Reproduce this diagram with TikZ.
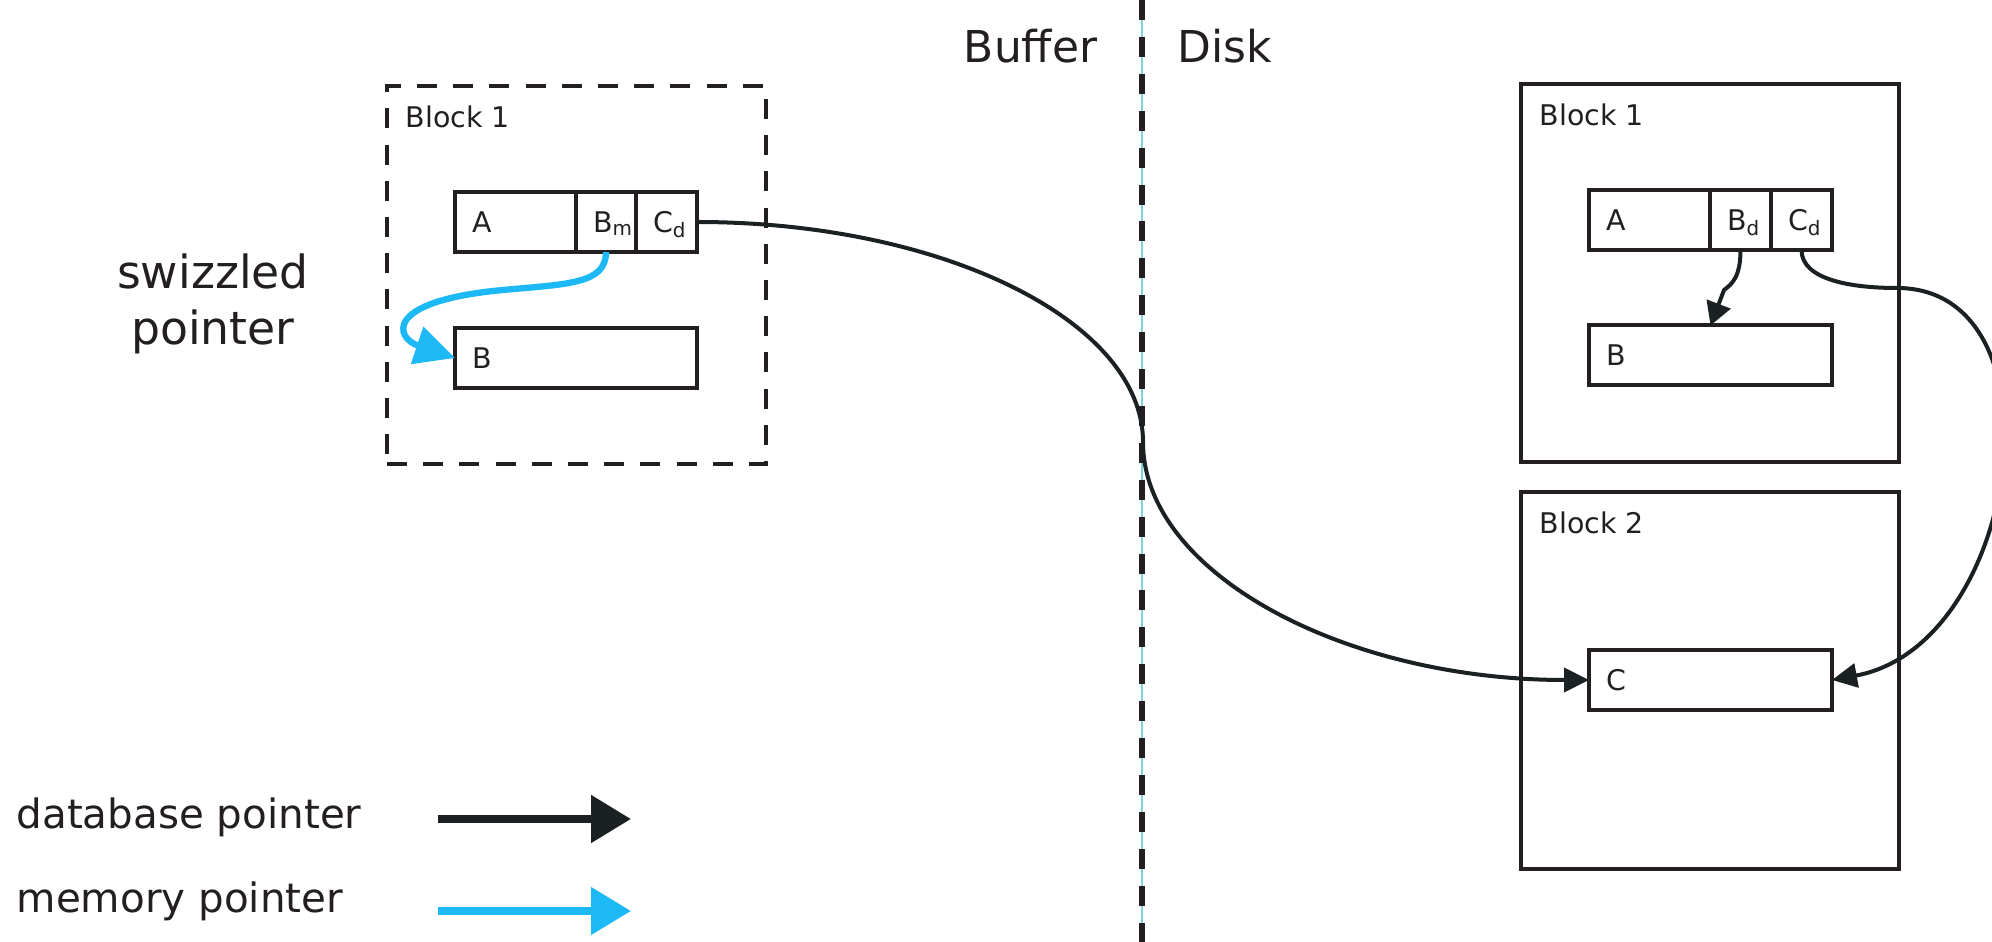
\documentclass[tikz,border=0pt]{standalone}
\usepackage{fontspec}
\setmainfont{DejaVu Sans}
\usetikzlibrary{arrows.meta,positioning}
\definecolor{boxink}{RGB}{35,31,32}
\definecolor{ptrink}{RGB}{27,32,35}
\definecolor{ptrblue}{RGB}{29,185,247}
\definecolor{splitcyan}{RGB}{128,212,226}

\begin{document}
\begin{tikzpicture}[
  blockbox/.style={draw=boxink,line width=1.14pt,inner sep=0pt,outer sep=0pt,minimum width=3.78cm,minimum height=3.78cm},
  blocklabel/.style={anchor=base west,inner sep=0pt,text=boxink,font=\fontsize{8.1}{9.7}\selectfont},
  cell/.style={draw=boxink,line width=1.14pt,outer sep=0pt,inner xsep=0.17cm,inner ysep=0pt,minimum height=0.6cm,text width=#1,text height=5.9pt,text depth=0pt,align=left,anchor=west,text=boxink,font=\fontsize{8.1}{9.7}\selectfont},
  dbptr/.style={draw=ptrink,line width=1.14pt,-{Triangle[length=2.5mm,width=2.4mm]}},
  memptr/.style={draw=ptrblue,line width=1.8pt,-{Triangle[length=4mm,width=3.8mm]}},
  bigtext/.style={inner sep=0pt,text=boxink,font=\fontsize{12.5}{14}\selectfont},
  legendtext/.style={anchor=base west,inner sep=0pt,text=boxink,font=\fontsize{11.5}{13.8}\selectfont}
]
\useasboundingbox (0,0) rectangle (19.92,-9.42);

% buffer | disk
\coordinate (splittop) at (11.42,0);
\coordinate (splitbot) at (11.42,-9.42);
\draw[splitcyan,line width=0.45pt] (splittop) -- (splitbot);
\draw[boxink,line width=1.7pt,dash pattern=on 5.7pt off 4.8pt] (splittop) -- (splitbot);
\node[bigtext,anchor=base east] (buffer) at (10.98,-0.63) {Buffer};
\node[bigtext,anchor=base west] (disk) at (11.77,-0.63) {Disk};

% buffer side
\node[blockbox,minimum width=3.79cm,dash pattern=on 5.7pt off 4.6pt] (bufblk) at (5.765,-2.75) {};
\node[blocklabel] (bufblklabel) at ([shift={(0.18,-0.42)}]bufblk.north west) {Block 1};
\node[cell=0.87cm] (bufa) at (4.55,-2.22) {A};
\node[cell=0.26cm,right=0pt of bufa] (bufbm) {B\textsubscript{m}};
\node[cell=0.27cm,right=0pt of bufbm] (bufcd) {C\textsubscript{d}};
\node[cell=2.08cm] (bufb) at (4.55,-3.58) {B};
\node[bigtext,align=center,font=\fontsize{13}{13.4}\selectfont] (swizzled) at (2.13,-3.035) {swizzled\\[0.09cm]pointer};

% disk side
\node[blockbox] (dskblk1) at (17.10,-2.73) {};
\node[blocklabel] (dskblk1label) at ([shift={(0.18,-0.415)}]dskblk1.north west) {Block 1};
\node[cell=0.87cm] (dska) at (15.89,-2.20) {A};
\node[cell=0.27cm,right=0pt of dska] (dskbd) {B\textsubscript{d}};
\node[cell=0.27cm,right=0pt of dskbd] (dskcd) {C\textsubscript{d}};
\node[cell=2.09cm] (dskb) at (15.89,-3.555) {B};
\node[blockbox,minimum height=3.77cm] (dskblk2) at (17.10,-6.805) {};
\node[blocklabel] (dskblk2label) at ([shift={(0.18,-0.415)}]dskblk2.north west) {Block 2};
\node[cell=2.09cm] (dskc) at (15.89,-6.80) {C};

% pointers
\coordinate (cross) at (11.43,-4.42);
\draw[dbptr] (bufcd.east) .. controls +(2.45,0) and +(0,1.21) .. (cross) .. controls +(0,-1.31) and +(-2.45,0) .. (dskc.west);
\coordinate (bdkink) at (17.24,-2.90);
\draw[dbptr,-{Triangle[length=2.3mm,width=2.5mm]}] (dskbd.south) .. controls +(0,-0.27) and +(0.08,0.06) .. (bdkink) -- (dskb.north);
\coordinate (cdturn) at (18.97,-2.88);
\draw[dbptr] (dskcd.south) .. controls +(0,-0.3) and +(-0.45,0) .. (cdturn) .. controls +(1.7,0) and +(1.9,0.35) .. (dskc.east);
\coordinate (swzmid) at (5.03,-2.90);
\draw[memptr] (bufbm.south) .. controls +(0,-0.32) and +(0.65,0.06) .. (swzmid) .. controls +(-1.2,-0.11) and +(-0.6,0.2) .. (bufb.west);

% legend
\node[legendtext] (dbptrtext) at (0.16,-8.28) {database pointer};
\node[legendtext] (memptrtext) at (0.16,-9.12) {memory pointer};
\coordinate (dbfrom) at (4.38,-8.19);
\coordinate (dbto) at (6.31,-8.19);
\coordinate (memfrom) at (4.38,-9.11);
\coordinate (memto) at (6.31,-9.11);
\draw[dbptr,line width=2.4pt,-{Triangle[length=4mm,width=4.6mm]}] (dbfrom) -- (dbto);
\draw[memptr,line width=2.3pt,-{Triangle[length=4mm,width=4.6mm]}] (memfrom) -- (memto);
\end{tikzpicture}
\end{document}
